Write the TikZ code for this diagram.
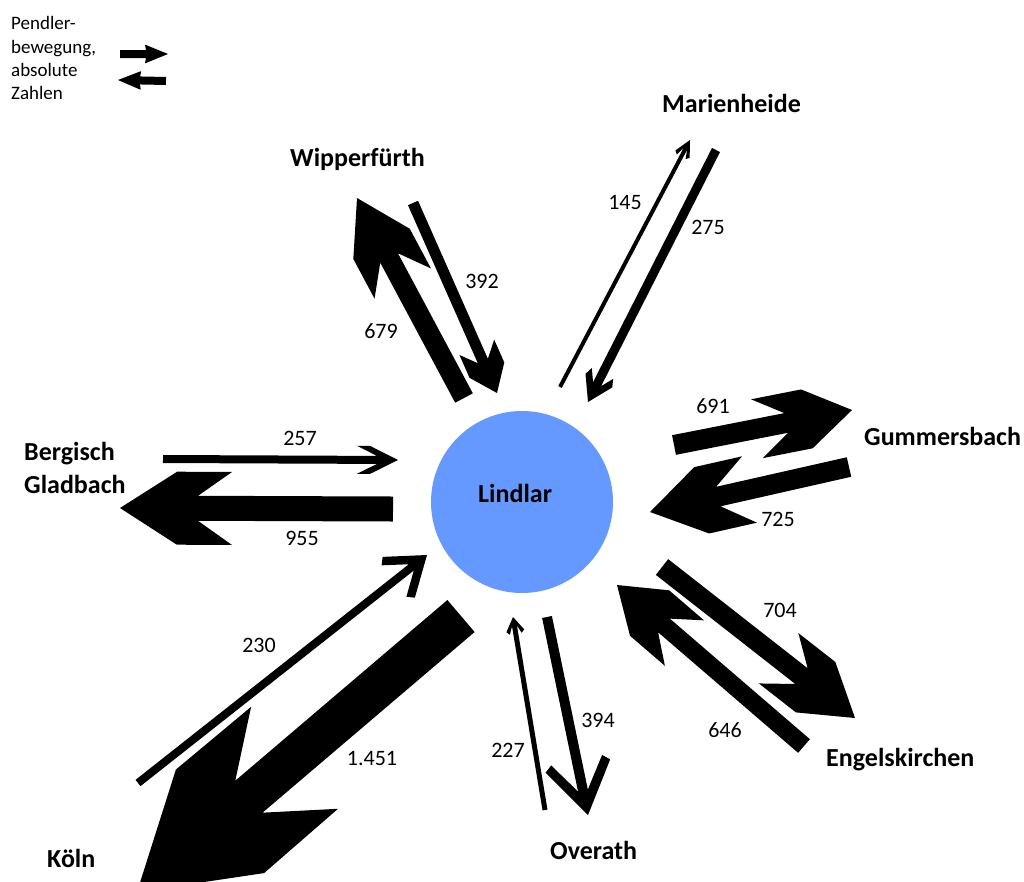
\documentclass[tikz,border=0pt]{standalone}
\usepackage{fontspec}
\setmainfont{Carlito}
\usetikzlibrary{calc}
\definecolor{lindlarblue}{RGB}{102,153,255}
% #1 start, #2 tip, #3 shaft half width, #4 junction, #5 barb back, #6 barb height, #7 outer back, #8 outer height
\newcommand\flowarrow[8]{%
  \fill[flowfill] let \p1=($(#2)-(#1)$), \n1={atan2(\y1,\x1)} in
    ($(#1)+(\n1+90:#3pt)$) --
    ($(#2)+(\n1+180:#4pt)+(\n1+90:#3pt)$) --
    ($(#2)+(\n1+180:#5pt)+(\n1+90:#6pt)$) --
    ($(#2)+(\n1+180:#7pt)+(\n1+90:#8pt)$) --
    (#2) --
    ($(#2)+(\n1+180:#7pt)+(\n1-90:#8pt)$) --
    ($(#2)+(\n1+180:#5pt)+(\n1-90:#6pt)$) --
    ($(#2)+(\n1+180:#4pt)+(\n1-90:#3pt)$) --
    ($(#1)+(\n1-90:#3pt)$) -- cycle;}
\tikzset{
  flowfill/.style={fill=black},
  city/.style={font=\fontsize{26}{31}\selectfont\bfseries, inner sep=0pt, anchor=base west},
  num/.style={font=\fontsize{22}{26}\selectfont, inner sep=0pt, anchor=base},
  legtext/.style={font=\fontsize{19}{23}\selectfont, inner sep=0pt, anchor=base west},
}
\begin{document}
\begin{tikzpicture}[x=1pt,y=-1pt]
\useasboundingbox (0,0) rectangle (1024,881);
\clip (0,0) rectangle (1024,881);
\fill[white] (0,0) rectangle (1024,881);

% centre
\node[circle, fill=lindlarblue, minimum size=182pt, inner sep=0pt] (lindlar) at (522,502) {};
\node[city] (lindlarlabel) at (478,502) {Lindlar};

% legend
\node[legtext] (leg1) at (11,29) {Pendler-};
\node[legtext] (leg2) at (11,53) {bewegung,};
\node[legtext] (leg3) at (11,76) {absolute};
\node[legtext] (leg4) at (11,99) {Zahlen};
\coordinate (lr1) at (120,54); \coordinate (lr2) at (168,54);
\coordinate (ll1) at (166,81); \coordinate (ll2) at (118,80);
\flowarrow{lr1}{lr2}{4}{22}{23}{9}{22}{9}
\flowarrow{ll1}{ll2}{4}{22}{23}{9}{22}{9}

% city labels
\node[city] (marienheide) at (662,112) {Marienheide};
\node[city] (wipperfuerth) at (290,166) {Wipperfürth};
\node[city] (gummersbach) at (864,445) {Gummersbach};
\node[city] (bergisch) at (24,460) {Bergisch};
\node[city] (gladbach) at (24,493) {Gladbach};
\node[city] (koeln) at (47,867) {Köln};
\node[city] (overath) at (550,859) {Overath};
\node[city] (engelskirchen) at (826,766) {Engelskirchen};

% arrow end points
\coordinate (s679) at (464,398); \coordinate (t679) at (357,198);
\coordinate (s392) at (413,203); \coordinate (t392) at (497,393);
\coordinate (s145) at (560,387); \coordinate (t145) at (690,140);
\coordinate (s275) at (716,150); \coordinate (t275) at (588,402);
\coordinate (s691) at (674,445); \coordinate (t691) at (852,410);
\coordinate (s725) at (849,467); \coordinate (t725) at (650,512);
\coordinate (s704) at (662,567); \coordinate (t704) at (855,718);
\coordinate (s646) at (804,746); \coordinate (t646) at (617,585);
\coordinate (s394) at (547,617); \coordinate (t394) at (588,815);
\coordinate (s227) at (545,810); \coordinate (t227) at (513,617);
\coordinate (s1451) at (461,616); \coordinate (t1451) at (137,892);
\coordinate (s230) at (138,783); \coordinate (t230) at (427,555);
\coordinate (s257) at (163,459); \coordinate (t257) at (398,460);
\coordinate (s955) at (393,509); \coordinate (t955) at (120,508);

% arrows
\flowarrow{s679}{t679}{10}{68}{97}{32}{52}{32}
\flowarrow{s392}{t392}{5.5}{35}{50}{19}{25}{19}
\flowarrow{s145}{t145}{2}{10}{19}{5}{16}{8}
\flowarrow{s275}{t275}{4.5}{20}{32}{12}{24}{15}
\flowarrow{s691}{t691}{10}{67}{97}{30}{46}{30}
\flowarrow{s725}{t725}{10}{70}{102}{34}{53}{34}
\flowarrow{s704}{t704}{10}{68}{97}{32}{50}{32}
\flowarrow{s646}{t646}{9}{62}{89}{30}{43}{30}
\flowarrow{s394}{t394}{5}{25}{56}{26}{50}{33}
\flowarrow{s227}{t227}{2.5}{9}{17}{6}{14}{9}
\flowarrow{s1451}{t1451}{21}{147}{207}{67}{109}{68}
\flowarrow{s230}{t230}{4}{20}{42}{20}{36}{26}
\flowarrow{s257}{t257}{4}{21}{41}{14}{28}{14}
\flowarrow{s955}{t955}{12.5}{78}{112}{36.5}{57}{36.5}

% numbers
\node[num] (n145) at (625,209) {145};
\node[num] (n275) at (708,234) {275};
\node[num] (n392) at (482,288) {392};
\node[num] (n679) at (381,338) {679};
\node[num] (n691) at (713,413) {691};
\node[num] (n725) at (778,526) {725};
\node[num] (n257) at (300,445) {257};
\node[num] (n955) at (302,545) {955};
\node[num] (n230) at (259,652) {230};
\node[num] (n1451) at (372,765) {1.451};
\node[num] (n227) at (508,757) {227};
\node[num] (n394) at (598,727) {394};
\node[num] (n704) at (780,617) {704};
\node[num] (n646) at (725,737) {646};
\end{tikzpicture}
\end{document}
